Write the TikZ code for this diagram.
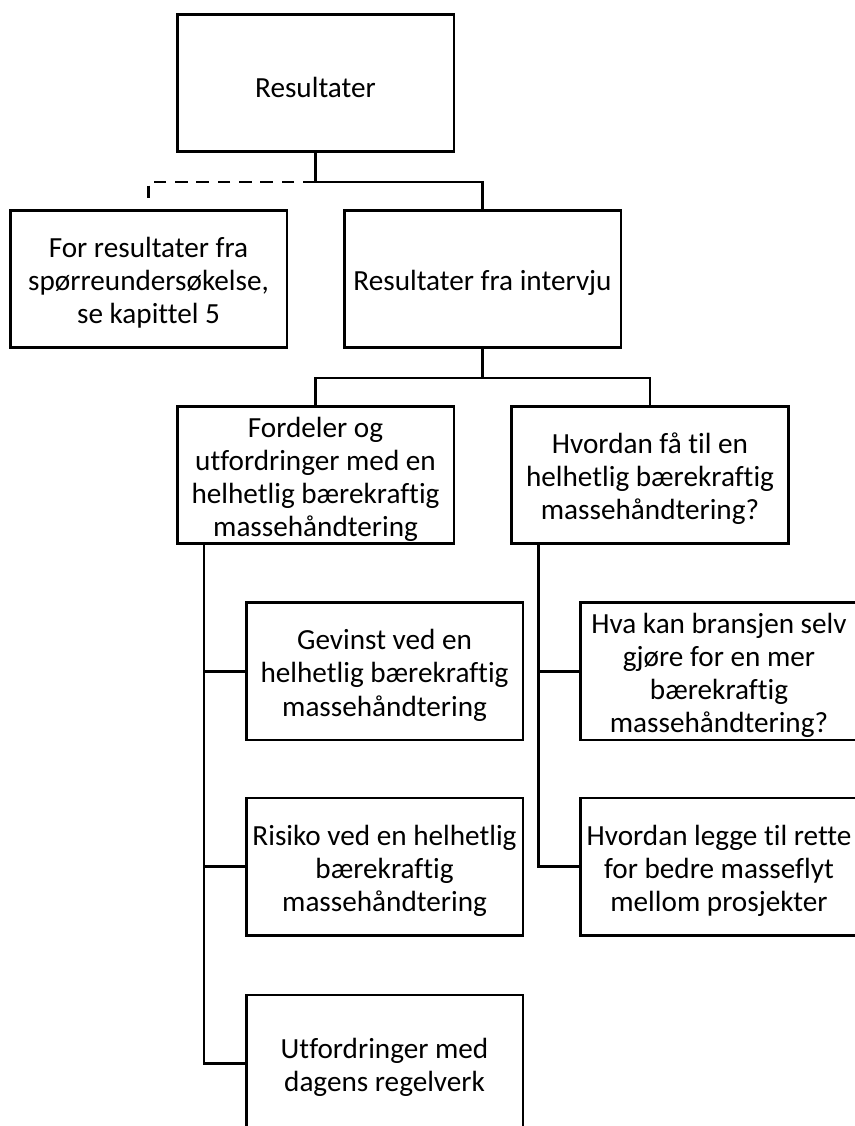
\documentclass[tikz,border=0pt]{standalone}
\usepackage{fontspec}
\setmainfont{Carlito}[Ligatures=NoCommon]
\usetikzlibrary{calc}
% a framed box plus its centred text, set a touch lower to balance the line struts
\newcommand\framedtext[3]{%
  \node[box] (#1) at #2 {};
  \node[boxtext] (#1-text) at ($(#1.center)+(0,4)$) {#3};}
\begin{document}
\begin{tikzpicture}[x=0.75pt,y=-0.75pt,
  boxtext/.style={inner sep=0pt, align=center,
    font=\fontsize{21.9pt}{24.8pt}\selectfont},
  box/.style={draw=black, line width=2pt, inner sep=0pt,
    minimum width=207.5pt, minimum height=103pt},
  link/.style={draw=black, line width=2pt},
  optlink/.style={link, dash pattern=on 9.5pt off 6.5pt}]
\useasboundingbox (0,0) rectangle (855,1126);

% top level
\framedtext{res}{(315.5,83)}{Resultater}

% second level
\framedtext{sur}{(148.5,279)}{For resultater fra\\spørreundersøkelse,\\se kapittel 5}
\framedtext{int}{(482.5,279)}{Resultater fra intervju}

% interview themes
\framedtext{ford}{(315.5,475)}{Fordeler og\\utfordringer med en\\helhetlig bærekraftig\\massehåndtering}
\framedtext{hv}{(650,475)}{Hvordan få til en\\helhetlig bærekraftig\\massehåndtering?}

% sub-themes, left column
\framedtext{gev}{(384.5,671.3)}{Gevinst ved en\\helhetlig bærekraftig\\massehåndtering}
\framedtext{ris}{(384.5,866.7)}{Risiko ved en helhetlig\\bærekraftig\\massehåndtering}
\framedtext{utf}{(384.5,1063.5)}{Utfordringer med\\dagens regelverk}

% sub-themes, right column
\framedtext{bra}{(719,671.3)}{Hva kan bransjen selv\\gjøre for en mer\\bærekraftig\\massehåndtering?}
\framedtext{leg}{(719,866.7)}{Hvordan legge til rette\\for bedre masseflyt\\mellom prosjekter}

% connectors
\draw[link] (res.south) -- ++(0,29) -| (int.north);
\draw[optlink] (res.south) ++(0,29) -| ($(sur.north)+(0,-11)$);

\draw[link] (int.south) -- ++(0,29) -| (ford.north);
\draw[link] (int.south) ++(0,29) -| (hv.north);

\draw[link] ($(ford.south west)+(28,0)$) |- (utf.west);
\draw[link] ($(ford.south west)+(28,0)$) |- (gev.west);
\draw[link] ($(ford.south west)+(28,0)$) |- (ris.west);

\draw[link] ($(hv.south west)+(28,0)$) |- (leg.west);
\draw[link] ($(hv.south west)+(28,0)$) |- (bra.west);
\end{tikzpicture}
\end{document}
